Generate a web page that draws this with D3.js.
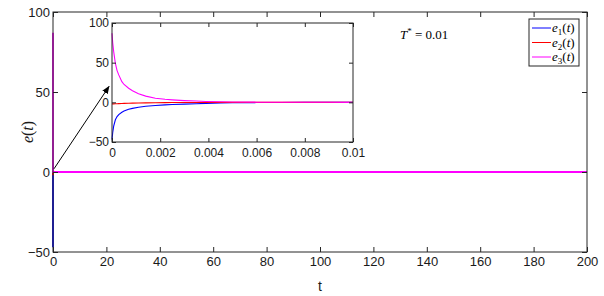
<!DOCTYPE html>
<html><head><meta charset="utf-8">
<script src="https://cdn.jsdelivr.net/npm/d3@7"></script>
<style>
body{margin:0;background:#fff;}
</style></head>
<body><svg id="c" width="604" height="296"></svg>
<script>
// sampled time points (inset window, s)
const tSamples = [0, 0.00003, 0.00007, 0.00014, 0.00021, 0.00028, 0.00041, 0.0005, 0.00069, 0.00085, 0.0011, 0.0014, 0.0018, 0.0022, 0.0025, 0.003, 0.0035, 0.0039, 0.0045, 0.005, 0.006, 0.007, 0.008, 0.009, 0.01];
const e1Values = [-47, -38, -30, -22, -18, -15.5, -12.5, -11, -8.8, -7.6, -6.2, -5.0, -4.0, -3.2, -2.8, -2.2, -1.7, -1.3, -0.9, -0.6, -0.3, -0.15, -0.08, -0.04, 0];
const e2Values = [-2, -1.95, -1.9, -1.8, -1.7, -1.6, -1.45, -1.35, -1.15, -1.0, -0.85, -0.7, -0.5, -0.38, -0.3, -0.2, -0.14, -0.1, -0.06, -0.04, -0.02, -0.01, 0, 0, 0];
const e3Values = [87, 75, 64, 49, 40, 34.6, 26, 22.5, 17.8, 14.5, 10.7, 7.8, 5.2, 3.8, 3.1, 2.2, 1.6, 1.1, 0.7, 0.45, 0.2, 0.1, 0.05, 0.02, 0];
const tEnd = 200;
const mainXTicks = [0, 20, 40, 60, 80, 100, 120, 140, 160, 180, 200];
const mainYTicks = [-50, 0, 50, 100];
const insetXTicks = [0, 0.002, 0.004, 0.006, 0.008, 0.01];
const insetYTicks = [-50, 0, 50, 100];
const seriesNames = ["e1", "e2", "e3"];
const seriesColors = ["#0000ff", "#ff0000", "#ff00ff"];

const SANS = "Liberation Sans, Arial, sans-serif";
const SERIF = "Liberation Serif, Times New Roman, serif";
const svg = d3.select("#c");
const axisColor = "#262626";

function series(vals, extendTo) {
  const pts = tSamples.map((t, i) => [t, vals[i]]);
  if (extendTo != null) pts.push([extendTo, 0]);
  return pts;
}
const allVals = [e1Values, e2Values, e3Values];

// ---------- main axes ----------
const M = {l: 53, r: 587, t: 12, b: 252};
const x = d3.scaleLinear().domain([0, 200]).range([M.l, M.r]);
const y = d3.scaleLinear().domain([-50, 100]).range([M.b, M.t]);

const line = d3.line().x(d => x(d[0])).y(d => y(d[1]));
const gm = svg.append("g");
allVals.forEach((v, i) => {
  gm.append("path").attr("d", line(series(v, tEnd))).attr("fill", "none")
    .attr("stroke", seriesColors[i]).attr("stroke-width", 1.8);
});

function boxAxes(g, xs, ys, xt, yt, fmtX, fmtY, tick, fs, xlabOff, ylabOff) {
  const [x0, x1] = xs.range(), [y0, y1] = ys.range();
  g.append("rect").attr("x", x0).attr("y", y1).attr("width", x1 - x0).attr("height", y0 - y1)
    .attr("fill", "none").attr("stroke", axisColor).attr("stroke-width", 1);
  const ax = g.append("g").attr("transform", `translate(0,${y0})`)
    .call(d3.axisBottom(xs).tickValues(xt).tickSize(-tick).tickPadding(xlabOff).tickFormat(fmtX));
  const axTop = g.append("g").attr("transform", `translate(0,${y1})`)
    .call(d3.axisTop(xs).tickValues(xt).tickSize(-tick).tickFormat(""));
  const ay = g.append("g").attr("transform", `translate(${x0},0)`)
    .call(d3.axisLeft(ys).tickValues(yt).tickSize(-tick).tickPadding(ylabOff).tickFormat(fmtY));
  const ayR = g.append("g").attr("transform", `translate(${x1},0)`)
    .call(d3.axisRight(ys).tickValues(yt).tickSize(-tick).tickFormat(""));
  [ax, axTop, ay, ayR].forEach(a => {
    a.select(".domain").remove();
    a.selectAll("line").attr("stroke", axisColor);
    a.attr("font-family", SANS).attr("font-size", fs);
    a.selectAll("text").attr("fill", "#1a1a1a");
  });
}
boxAxes(gm, x, y, mainXTicks, mainYTicks, d3.format("d"), d3.format("d"), 5, 13, 5, 3);

// axis labels
svg.append("text").attr("x", (M.l + M.r) / 2).attr("y", 291).attr("text-anchor", "middle")
  .attr("font-family", SANS).attr("font-size", 14).attr("fill", "#1a1a1a").text("t");
const yl = svg.append("text").attr("transform", `translate(33,${(M.t + M.b) / 2}) rotate(-90)`)
  .attr("text-anchor", "middle").attr("font-family", SERIF).attr("font-size", 16).attr("fill", "#1a1a1a");
yl.append("tspan").attr("font-style", "italic").text("e");
yl.append("tspan").text("(");
yl.append("tspan").attr("font-style", "italic").text("t");
yl.append("tspan").text(")");

// ---------- inset ----------
const I = {l: 112, r: 353, t: 23, b: 142};
const xi = d3.scaleLinear().domain([0, 0.01]).range([I.l, I.r]);
const yi = d3.scaleLinear().domain([-50, 100]).range([I.b, I.t]);
const gi = svg.append("g");
gi.append("rect").attr("x", I.l).attr("y", I.t).attr("width", I.r - I.l).attr("height", I.b - I.t).attr("fill", "#fff");
const linei = d3.line().x(d => xi(d[0])).y(d => yi(d[1]));
allVals.forEach((v, i) => {
  gi.append("path").attr("d", linei(series(v, null))).attr("fill", "none")
    .attr("stroke", seriesColors[i]).attr("stroke-width", 1.1);
});
boxAxes(gi, xi, yi, insetXTicks, insetYTicks, d => d === 0 ? "0" : String(+d.toFixed(3)), d3.format("d"), 4, 12, 6, 3);

// ---------- arrow ----------
const defs = svg.append("defs");
defs.append("marker").attr("id", "ah").attr("viewBox", "0 0 10 10").attr("refX", 9).attr("refY", 5)
  .attr("markerWidth", 8).attr("markerHeight", 8).attr("orient", "auto")
  .append("path").attr("d", "M0,1 L10,5 L0,9 Z").attr("fill", "#000");
svg.append("line").attr("x1", x(0) + 1).attr("y1", y(2)).attr("x2", xi(0) - 3).attr("y2", yi(20))
  .attr("stroke", "#000").attr("stroke-width", 1).attr("marker-end", "url(#ah)");

// ---------- annotation ----------
const ann = svg.append("text").attr("x", 400).attr("y", 39)
  .attr("font-family", SERIF).attr("font-size", 13).attr("fill", "#000");
ann.append("tspan").attr("font-style", "italic").text("T");
ann.append("tspan").attr("dy", -5).attr("font-size", 9).text("*");
ann.append("tspan").attr("dy", 5).text(" = 0.01");

// ---------- legend ----------
const L = {x: 529, y: 19, w: 50, h: 47};
const gl = svg.append("g");
gl.append("rect").attr("x", L.x).attr("y", L.y).attr("width", L.w).attr("height", L.h)
  .attr("fill", "#fff").attr("stroke", axisColor).attr("stroke-width", 1);
seriesNames.forEach((n, i) => {
  const yy = L.y + 9 + i * 14.5;
  gl.append("line").attr("x1", L.x + 3).attr("x2", L.x + 22).attr("y1", yy).attr("y2", yy)
    .attr("stroke", seriesColors[i]).attr("stroke-width", 1);
  const t = gl.append("text").attr("x", L.x + 23).attr("y", yy + 4)
    .attr("font-family", SERIF).attr("font-size", 13).attr("fill", "#000");
  t.append("tspan").attr("font-style", "italic").text("e");
  t.append("tspan").attr("dy", 3).attr("font-size", 9).text(String(i + 1));
  t.append("tspan").attr("dy", -3).text("(");
  t.append("tspan").attr("font-style", "italic").text("t");
  t.append("tspan").text(")");
});
</script></body></html>
